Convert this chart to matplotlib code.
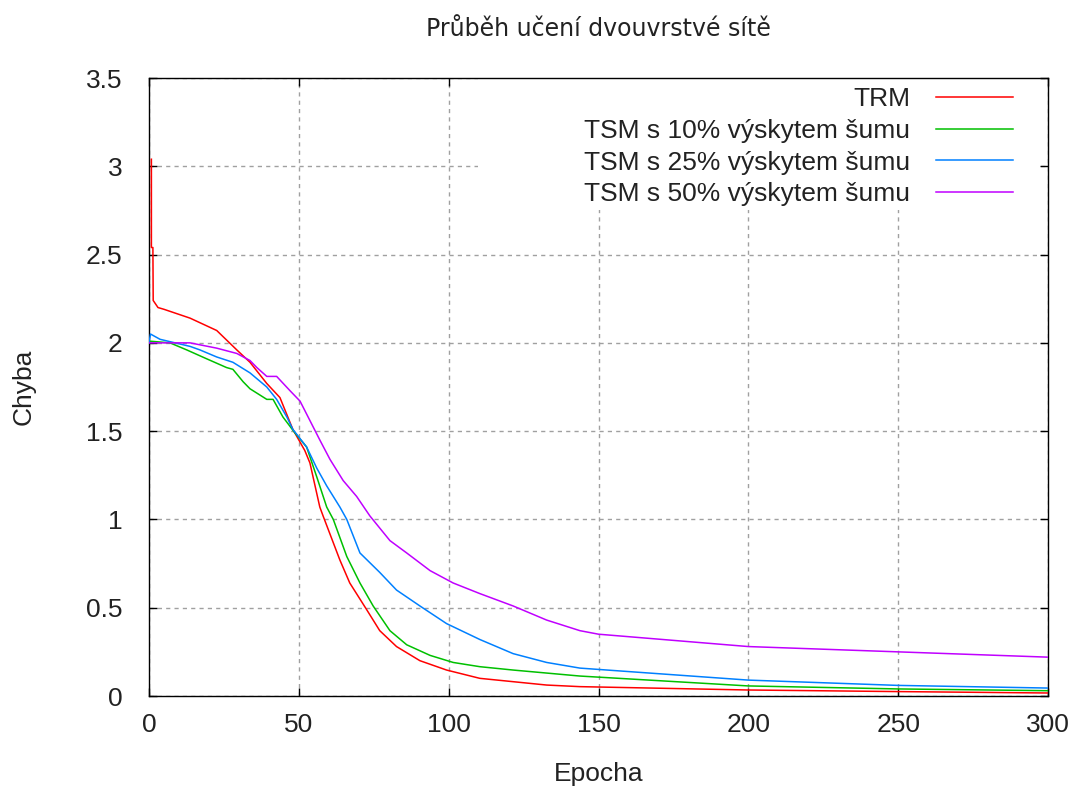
import numpy as np
import matplotlib.pyplot as plt
from matplotlib.patches import Rectangle

# hodnoty (epocha, chyba)
trm_epochy = [0.8, 0.8, 1.3, 1.4, 3, 5, 13.7, 22.6, 29.3, 33.7, 39.3, 43.7, 48, 52, 53.7, 57, 58.2, 63.7, 67, 72.6, 77, 82.6, 90.4, 99.3, 110.4, 132.7, 143.8, 200, 250, 300]
trm_chyba = [3.04, 2.54, 2.54, 2.24, 2.2, 2.19, 2.14, 2.07, 1.96, 1.89, 1.77, 1.69, 1.51, 1.39, 1.32, 1.07, 1.015, 0.77, 0.64, 0.49, 0.37, 0.28, 0.20, 0.147, 0.10, 0.062, 0.053, 0.034, 0.025, 0.017]

tsm10_epochy = [0, 7, 12.6, 19.2, 25.9, 28, 31.4, 33.7, 39.3, 41.4, 44.7, 48.7, 52.6, 56, 59.3, 61.5, 66, 70.4, 74.8, 80.4, 86, 93.8, 101.5, 110.4, 121.5, 143.8, 200, 250, 300]
tsm10_chyba = [2.01, 2.0, 1.96, 1.91, 1.86, 1.85, 1.78, 1.74, 1.68, 1.68, 1.58, 1.49, 1.41, 1.24, 1.07, 1.0, 0.79, 0.64, 0.51, 0.37, 0.29, 0.23, 0.19, 0.166, 0.147, 0.113, 0.057, 0.04, 0.03]

tsm25_epochy = [0, 0.5, 3.7, 13.7, 17, 22.6, 28, 33.7, 39.3, 42.6, 46, 48, 52.6, 56, 59.3, 63.7, 66, 70.4, 77, 82.6, 90.4, 99.3, 110.4, 121.5, 132.7, 143.8, 200, 250, 300]
tsm25_chyba = [2.0, 2.05, 2.02, 1.98, 1.96, 1.92, 1.89, 1.83, 1.75, 1.68, 1.58, 1.51, 1.41, 1.29, 1.19, 1.07, 1.0, 0.81, 0.70, 0.60, 0.51, 0.41, 0.32, 0.24, 0.19, 0.158, 0.09, 0.06, 0.045]

tsm50_epochy = [0, 13.7, 22.6, 29.3, 33.7, 36, 39.3, 42.6, 47, 50.4, 53.7, 57, 60.4, 64.8, 69.3, 73.7, 80.4, 86, 93.8, 101.5, 110.4, 121.5, 132.7, 143.8, 150, 200, 250, 300]
tsm50_chyba = [2.0, 2.0, 1.97, 1.94, 1.90, 1.86, 1.81, 1.81, 1.73, 1.67, 1.56, 1.45, 1.34, 1.22, 1.13, 1.02, 0.88, 0.81, 0.71, 0.64, 0.58, 0.51, 0.43, 0.37, 0.35, 0.28, 0.25, 0.22]

popisky = ["TRM", "TSM s 10% výskytem šumu", "TSM s 25% výskytem šumu", "TSM s 50% výskytem šumu"]
barvy = ["#ff0000", "#00c000", "#0080ff", "#c000ff"]

pismo = "Liberation Sans"
vel = 19

fig = plt.figure(figsize=(10.72, 7.87), dpi=100)
ax = fig.add_axes([149 / 1072, 91 / 787, 899 / 1072, 618 / 787])

data = [(trm_epochy, trm_chyba), (tsm10_epochy, tsm10_chyba),
        (tsm25_epochy, tsm25_chyba), (tsm50_epochy, tsm50_chyba)]
for (x, y), lab, c in zip(data, popisky, barvy):
    ax.plot(x, y, color=c, linewidth=1.1, label=lab, zorder=3)

ax.set_xlim(0, 300)
ax.set_ylim(0, 3.5)
ax.set_xticks(np.arange(0, 301, 50))
ax.set_yticks(np.arange(0, 3.51, 0.5))
ax.set_yticklabels(["0", "0.5", "1", "1.5", "2", "2.5", "3", "3.5"])

ax.grid(True, color="#a0a0a0", linestyle=(0, (3, 3)), linewidth=1.0)
ax.set_axisbelow(True)
ax.tick_params(direction="in", length=6, width=1, top=True, right=True,
               labelsize=vel, pad=12, colors="black")
ax.tick_params(axis="y", pad=19)
for s in ax.spines.values():
    s.set_linewidth(1.0)

for t in ax.get_xticklabels() + ax.get_yticklabels():
    t.set_fontfamily(pismo)
    t.set_color("#222222")

ax.set_xlabel("Epocha", fontsize=vel, family=pismo, labelpad=18, color="#222222")
ax.set_ylabel("Chyba", fontsize=vel, family=pismo, labelpad=36, color="#222222")
ax.set_title("Průběh učení dvouvrstvé sítě", fontsize=17, family="DejaVu Sans", pad=30, color="#222222")

# bílé pozadí legendy zakrývá mřížku jako v gnuplotu
ax.add_patch(Rectangle((0.366, 0.786), 0.624, 0.214, transform=ax.transAxes,
                       facecolor="white", edgecolor="none", zorder=1))

leg = ax.legend(loc="upper right", bbox_to_anchor=(0.961, 0.985), markerfirst=False,
                frameon=False, prop={"family": pismo, "size": vel}, handlelength=2.9,
                labelspacing=0.29, borderpad=0, borderaxespad=0, handletextpad=1.0)
for t in leg.get_texts():
    t.set_ha("right")
    t.set_color("#222222")

fig.savefig("out.png", dpi=100)
